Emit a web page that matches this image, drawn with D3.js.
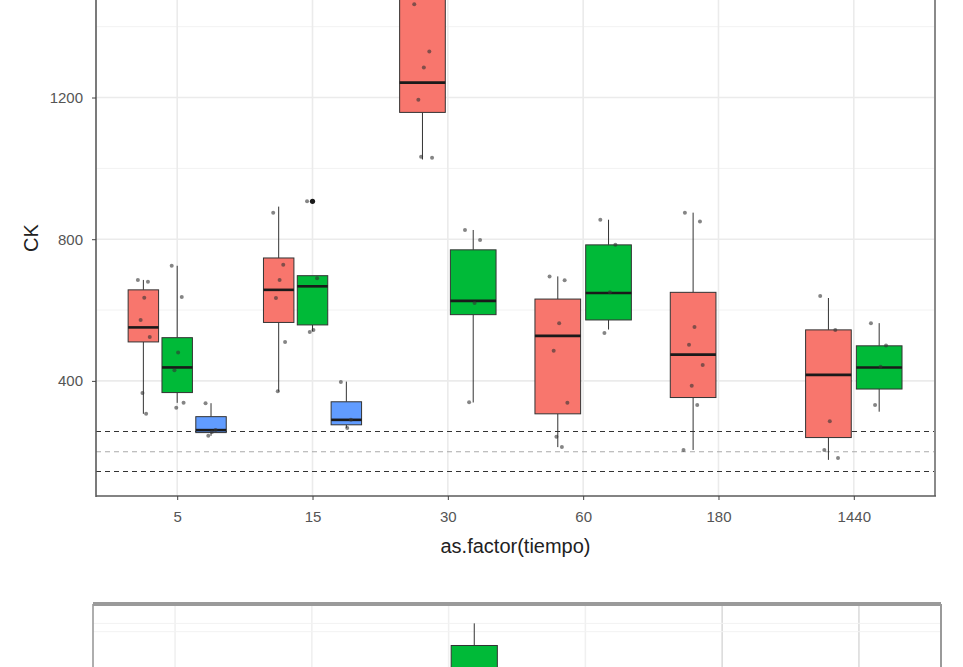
<!DOCTYPE html>
<html>
<head>
<meta charset="utf-8">
<script src="https://cdn.jsdelivr.net/npm/d3@7"></script>
<style>
  html, body { margin: 0; padding: 0; background: #fff; }
  svg { display: block; font-family: "Liberation Sans", Arial, sans-serif; }
</style>
</head>
<body>
<svg id="chart" width="963" height="667"></svg>
<script>
// ---- data ---------------------------------------------------------------
const tiempo = ["5", "15", "30", "60", "180", "1440"];
const groupColors = ["#F8766D", "#00BA38", "#619CFF"];
// number of dodge slots used at each time point
const slotsPerTime = [3, 3, 2, 2, 2, 2];

// box statistics: [lower whisker, Q1, median, Q3, upper whisker]
const redStats = [
  [307, 510, 551, 657, 685],
  [370, 565, 657, 747, 892],
  [1025, 1158, 1242, 1560, 1760],
  [213, 307, 527, 631, 695],
  [205, 353, 474, 650, 875],
  [177, 240, 417, 544, 634]
];
const greenStats = [
  [338, 367, 438, 522, 725],
  [540, 558, 667, 697, 697],
  [339, 587, 626, 770, 826],
  [545, 572, 648, 784, 855],
  null,
  [313, 377, 438, 499, 563]
];
const blueStats = [
  [245, 254, 261, 299, 337],
  [267, 276, 290, 341, 398],
  null, null, null, null
];
// outliers per series and time point
const redOutliers = [[], [], [], [], [], []];
const greenOutliers = [[], [907], [], [], [], []];
const blueOutliers = [[], [], [], [], [], []];

// individual observations (jittered)
const redPoints = [
  [685, 680, 635, 572, 524, 366, 307],
  [875, 728, 685, 634, 510, 371],
  [1463, 1330, 1285, 1194, 1030, 1033],
  [695, 684, 563, 485, 338, 242, 213],
  [875, 850, 552, 502, 445, 386, 332, 205],
  [640, 544, 286, 205, 182]
];
const greenPoints = [
  [725, 637, 480, 430, 338, 324],
  [907, 690, 544, 538],
  [826, 798, 620, 340],
  [855, 784, 650, 535],
  [],
  [563, 500, 440, 332]
];
const bluePoints = [
  [337, 261, 256, 245],
  [397, 290, 267],
  [], [], [], []
];
const jitterPattern = [-0.3, 0.25, 0.05, -0.15, 0.35, -0.05, 0.15, -0.35];

// reference levels
const refLines = [257, 200, 144];

// second panel (partially shown): one box at 30
const panel2Green = [null, null, [50, 60, 70, 92, 100], null, null, null];

const yTicks = [400, 800, 1200];
const yMinor = [600, 1000, 1400];

// ---- layout -------------------------------------------------------------
const svg = d3.select("#chart");
const P = { left: 96, right: 935, top: -200, bottom: 496 };

const x = d3.scalePoint().domain(tiempo).range([P.left, P.right]).padding(0.6);
const y = d3.scaleLinear().domain([75, 2040]).range([P.bottom, P.top]);
const step = x.step();

const series = [
  { stats: redStats, pts: redPoints, out: redOutliers, color: groupColors[0], slot: 0 },
  { stats: greenStats, pts: greenPoints, out: greenOutliers, color: groupColors[1], slot: 1 },
  { stats: blueStats, pts: bluePoints, out: blueOutliers, color: groupColors[2], slot: 2 }
];

function slotCenter(xs, stepSize, ti, slot) {
  const n = slotsPerTime[ti];
  const w = 0.75 / n;
  return xs(tiempo[ti]) + (-0.375 + (slot + 0.5) * w) * stepSize;
}
function boxWidth(stepSize, ti) {
  return 0.75 / slotsPerTime[ti] * 0.9 * stepSize;
}

const g = svg.append("g");
g.append("clipPath").attr("id", "clipTop")
  .append("rect").attr("x", P.left).attr("y", 0)
  .attr("width", P.right - P.left).attr("height", P.bottom);

// grid
const grid = g.append("g");
grid.selectAll(".minor").data(yMinor).join("line")
  .attr("x1", P.left).attr("x2", P.right)
  .attr("y1", d => y(d)).attr("y2", d => y(d))
  .attr("stroke", "#f2f2f2").attr("stroke-width", 1);
grid.selectAll(".major").data(yTicks).join("line")
  .attr("x1", P.left).attr("x2", P.right)
  .attr("y1", d => y(d)).attr("y2", d => y(d))
  .attr("stroke", "#ebebeb").attr("stroke-width", 1.6);
grid.selectAll(".vx").data(tiempo).join("line")
  .attr("x1", d => x(d)).attr("x2", d => x(d))
  .attr("y1", 0).attr("y2", P.bottom)
  .attr("stroke", "#ebebeb").attr("stroke-width", 1.6);

// reference lines
g.selectAll(".ref").data(refLines).join("line")
  .attr("x1", P.left).attr("x2", P.right)
  .attr("y1", d => y(d)).attr("y2", d => y(d))
  .attr("stroke", (d, i) => i === 1 ? "#aaaaaa" : "#333333")
  .attr("stroke-width", 1.1)
  .attr("stroke-dasharray", "5,4");

// boxes
function drawBoxes(layer, xs, ys, stepSize, statsArr, outArr, color, slot, clipId) {
  statsArr.forEach((s, ti) => {
    if (!s) return;
    const cx = slotCenter(xs, stepSize, ti, slot);
    const bw = boxWidth(stepSize, ti);
    const bg = layer.append("g").attr("clip-path", clipId ? `url(#${clipId})` : null);
    bg.append("line").attr("x1", cx).attr("x2", cx)
      .attr("y1", ys(s[0])).attr("y2", ys(s[1]))
      .attr("stroke", "#333").attr("stroke-width", 1);
    bg.append("line").attr("x1", cx).attr("x2", cx)
      .attr("y1", ys(s[3])).attr("y2", ys(s[4]))
      .attr("stroke", "#333").attr("stroke-width", 1);
    bg.append("rect").attr("x", cx - bw / 2).attr("width", bw)
      .attr("y", ys(s[3])).attr("height", ys(s[1]) - ys(s[3]))
      .attr("fill", color).attr("stroke", "#333").attr("stroke-width", 1);
    bg.append("line").attr("x1", cx - bw / 2).attr("x2", cx + bw / 2)
      .attr("y1", ys(s[2])).attr("y2", ys(s[2]))
      .attr("stroke", "#1a1a1a").attr("stroke-width", 2.6);
    if (outArr) {
      outArr[ti].forEach(v => {
        bg.append("circle").attr("cx", cx).attr("cy", ys(v)).attr("r", 2.6).attr("fill", "#1a1a1a");
      });
    }
  });
}

const boxLayer = g.append("g");
series.forEach(sr => drawBoxes(boxLayer, x, y, step, sr.stats, sr.out, sr.color, sr.slot, "clipTop"));

// jittered observations
const ptLayer = g.append("g").attr("clip-path", "url(#clipTop)");
series.forEach(sr => {
  sr.pts.forEach((vals, ti) => {
    if (!vals.length) return;
    const cx = slotCenter(x, step, ti, sr.slot);
    const bw = boxWidth(step, ti);
    vals.forEach((v, k) => {
      ptLayer.append("circle")
        .attr("cx", cx + jitterPattern[k % jitterPattern.length] * bw * 0.6)
        .attr("cy", y(v)).attr("r", 2)
        .attr("fill", "#333").attr("fill-opacity", 0.6);
    });
  });
});

// axes / borders
g.append("line").attr("x1", P.right).attr("x2", P.right).attr("y1", 0).attr("y2", P.bottom)
  .attr("stroke", "#8a8a8a").attr("stroke-width", 2);
g.append("line").attr("x1", P.left).attr("x2", P.left).attr("y1", 0).attr("y2", P.bottom + 1)
  .attr("stroke", "#5a5a5a").attr("stroke-width", 1.6);
g.append("line").attr("x1", P.left).attr("x2", P.right + 1).attr("y1", P.bottom).attr("y2", P.bottom)
  .attr("stroke", "#5a5a5a").attr("stroke-width", 1.6);

const yAxis = g.append("g").attr("transform", `translate(${P.left},0)`)
  .call(d3.axisLeft(y).tickValues(yTicks).tickSize(4).tickPadding(9).tickFormat(d3.format("d")));
yAxis.select(".domain").remove();
yAxis.selectAll("line").attr("stroke", "#444");
yAxis.selectAll("text").attr("fill", "#555").style("font-size", "15px")
  .style("font-family", "Liberation Sans, Arial, sans-serif");

const xAxis = g.append("g").attr("transform", `translate(0,${P.bottom})`)
  .call(d3.axisBottom(x).tickSize(4).tickPadding(11));
xAxis.select(".domain").remove();
xAxis.selectAll("line").attr("stroke", "#444");
xAxis.selectAll("text").attr("fill", "#555").style("font-size", "15px")
  .style("font-family", "Liberation Sans, Arial, sans-serif");

g.append("text").attr("x", (P.left + P.right) / 2).attr("y", 553)
  .attr("text-anchor", "middle").attr("fill", "#222")
  .style("font-size", "20px").text("as.factor(tiempo)");
g.append("text").attr("transform", "translate(38,238) rotate(-90)")
  .attr("text-anchor", "middle").attr("fill", "#222")
  .style("font-size", "20px").text("CK");

// ---- second panel --------------------------------------------------------
const P2 = { left: 93, right: 941, top: 604, bottom: 900 };
const x2 = d3.scalePoint().domain(tiempo).range([P2.left, P2.right]).padding(0.6);
const y2 = d3.scaleLinear().domain([0, 107]).range([P2.bottom, P2.top]);
const g2 = svg.append("g");
g2.selectAll(".v2").data(tiempo).join("line")
  .attr("x1", d => x2(d)).attr("x2", d => x2(d))
  .attr("y1", P2.top).attr("y2", 667)
  .attr("stroke", (d, i) => i >= 4 ? "#dcdcdc" : "#f0f0f0").attr("stroke-width", 1.6);
g2.selectAll(".h2").data([100, 97]).join("line")
  .attr("x1", P2.left).attr("x2", P2.right)
  .attr("y1", d => y2(d)).attr("y2", d => y2(d))
  .attr("stroke", "#f2f2f2").attr("stroke-width", 1);
drawBoxes(g2, x2, y2, x2.step(), panel2Green, null, groupColors[1], 1, null);
g2.append("line").attr("x1", P2.left).attr("x2", P2.right).attr("y1", P2.top).attr("y2", P2.top)
  .attr("stroke", "#9a9a9a").attr("stroke-width", 4);
g2.append("line").attr("x1", P2.left).attr("x2", P2.left).attr("y1", P2.top).attr("y2", 667)
  .attr("stroke", "#9a9a9a").attr("stroke-width", 1.6);
g2.append("line").attr("x1", P2.right).attr("x2", P2.right).attr("y1", P2.top).attr("y2", 667)
  .attr("stroke", "#9a9a9a").attr("stroke-width", 2);
</script>
</body>
</html>
